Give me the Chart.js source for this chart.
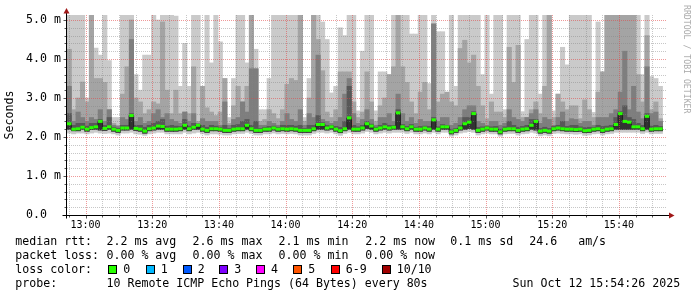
<!DOCTYPE html>
<html>
<head>
<meta charset="utf-8">
<title>smokeping</title>
<script src="https://cdn.jsdelivr.net/npm/chart.js@4/dist/chart.umd.min.js"></script>
<style>
  html, body { margin: 0; padding: 0; background: #fff; }
  #wrap { position: relative; width: 697px; height: 297px; overflow: hidden;
          font-family: "DejaVu Sans Mono", monospace; font-size: 11.6px; color: #000; }
  #chart { position: absolute; left: 0; top: 0; }
  .t { position: absolute; white-space: pre; line-height: 14px; }
  .box { position: absolute; width: 7px; height: 7px; border: 1px solid #000; }
  #credit { position: absolute; left: 692px; top: 5px; font-size: 8.2px; line-height: 10px;
            color: #aaa; white-space: pre; transform-origin: 0 0; transform: rotate(90deg); }
</style>
</head>
<body>
<div id="wrap">
  <canvas id="chart" width="697" height="297"></canvas>
  <div id="credit">RRDTOOL / TOBI OETIKER</div>
</div>
<script>
// ---------- time window (seconds of day) ----------
const start = 46466;   // 12:54:26
const end = 57266;     // 15:54:26
const step = 80;       // one probe round every 80s

// ---------- median rtt per round (ms) ----------
const median = [
  2.34,2.2,2.21,2.25,2.2,2.24,2.26,2.40,2.22,2.26,
  2.2,2.17,2.23,2.23,2.55,2.22,2.2,2.15,2.21,2.23,
  2.28,2.27,2.2,2.2,2.2,2.21,2.3,2.21,2.25,2.3,
  2.2,2.17,2.21,2.21,2.2,2.17,2.17,2.2,2.21,2.21,
  2.3,2.21,2.17,2.17,2.2,2.2,2.23,2.2,2.21,2.2,
  2.21,2.2,2.17,2.17,2.17,2.21,2.32,2.32,2.23,2.26,
  2.2,2.16,2.21,2.49,2.2,2.2,2.23,2.34,2.28,2.2,
  2.23,2.26,2.23,2.25,2.62,2.26,2.21,2.26,2.2,2.2,
  2.23,2.2,2.44,2.2,2.26,2.26,2.13,2.17,2.23,2.34,
  2.38,2.6,2.17,2.2,2.23,2.2,2.2,2.13,2.2,2.21,
  2.21,2.17,2.2,2.21,2.3,2.40,2.15,2.17,2.15,2.21,
  2.23,2.21,2.2,2.2,2.19,2.2,2.16,2.17,2.2,2.21,
  2.17,2.2,2.21,2.32,2.6,2.4,2.38,2.26,2.26,2.21,
  2.53,2.2,2.21,2.21
];

// ---------- smoke: sorted ping values (ms) ----------
const p1 = [
  2.1,2.08,2.1,2.1,2.08,2.1,2.12,2.1,2.09,2.1,
  2.08,2.05,2.1,2.1,2.12,2.08,2.07,2.04,2.08,2.1,
  2.12,2.12,2.08,2.08,2.08,2.08,2.12,2.08,2.1,2.12,
  2.08,2.05,2.08,2.08,2.07,2.05,2.05,2.08,2.09,2.09,
  2.12,2.09,2.05,2.05,2.08,2.08,2.1,2.08,2.09,2.08,
  2.09,2.08,2.05,2.05,2.05,2.09,2.12,2.12,2.1,2.12,
  2.08,2.04,2.09,2.12,2.08,2.08,2.1,2.14,2.12,2.08,
  2.1,2.12,2.1,2.12,2.12,2.12,2.09,2.12,2.08,2.08,
  2.1,2.08,2.12,2.08,2.12,2.12,2.02,2.05,2.1,2.12,
  2.14,2.12,2.05,2.08,2.1,2.08,2.08,2.02,2.08,2.09,
  2.09,2.05,2.08,2.09,2.12,2.1,2.03,2.05,2.03,2.09,
  2.1,2.09,2.08,2.08,2.07,2.08,2.04,2.05,2.08,2.09,
  2.05,2.08,2.09,2.12,2.12,2.12,2.12,2.12,2.12,2.09,
  2.12,2.08,2.09,2.09
];
const p5 = [
  2.2,2.16,2.16,2.2,2.15,2.19,2.2,2.18,2.17,2.2,
  2.15,2.12,2.18,2.18,2.2,2.17,2.15,2.1,2.16,2.18,
  2.2,2.2,2.15,2.15,2.15,2.16,2.2,2.16,2.2,2.2,
  2.15,2.12,2.16,2.16,2.15,2.12,2.12,2.15,2.16,2.16,
  2.2,2.16,2.12,2.12,2.15,2.15,2.18,2.15,2.16,2.15,
  2.16,2.15,2.12,2.12,2.12,2.16,2.2,2.2,2.18,2.2,
  2.15,2.11,2.16,2.2,2.15,2.15,2.18,2.22,2.2,2.15,
  2.18,2.2,2.18,2.2,2.2,2.2,2.16,2.2,2.15,2.15,
  2.18,2.15,2.2,2.15,2.2,2.2,2.08,2.12,2.18,2.2,
  2.22,2.2,2.12,2.15,2.18,2.15,2.15,2.08,2.15,2.16,
  2.16,2.12,2.15,2.16,2.2,2.18,2.1,2.12,2.1,2.16,
  2.18,2.16,2.15,2.15,2.14,2.15,2.11,2.12,2.15,2.16,
  2.12,2.15,2.16,2.2,2.2,2.2,2.2,2.2,2.2,2.16,
  2.2,2.15,2.16,2.16
];
const p7 = [
  2.6,2.3,2.35,2.35,2.28,2.35,2.35,2.45,2.3,2.5,
  2.25,2.22,2.3,2.3,2.6,2.3,2.3,2.25,2.3,2.35,
  2.4,2.45,2.28,2.3,2.28,2.27,2.45,2.28,2.35,2.32,
  2.3,2.25,2.3,2.28,2.25,2.3,2.22,2.3,2.32,2.4,
  2.45,2.3,2.4,2.22,2.25,2.27,2.28,2.25,2.3,2.3,
  2.3,2.28,2.3,2.22,2.3,2.3,2.55,2.37,2.3,2.3,
  2.27,2.25,2.4,3.3,2.3,2.26,2.3,2.4,2.33,2.25,
  2.3,2.35,2.3,2.3,2.7,2.32,2.27,2.32,2.25,2.27,
  2.28,2.27,2.5,2.26,2.32,2.3,2.2,2.22,2.3,2.5,
  2.5,2.65,2.25,2.26,2.27,2.26,2.27,2.2,2.26,2.4,
  2.3,2.25,2.27,2.3,2.45,2.45,2.22,2.25,2.22,2.27,
  2.3,2.4,2.27,2.3,2.3,2.26,2.24,2.25,2.25,2.3,
  2.27,2.28,2.3,2.5,2.65,2.8,2.5,2.45,2.35,2.3,
  2.6,2.28,2.3,2.27
];
const p8 = [
  3.3,2.4,2.64,2.5,2.4,2.5,2.45,2.7,2.4,2.7,
  2.3,2.27,2.5,2.45,4.5,2.4,2.5,2.35,2.4,2.6,
  2.7,2.5,2.6,2.45,2.4,2.35,2.64,2.4,2.6,2.35,
  2.47,2.4,2.4,2.4,2.3,2.9,2.3,2.45,2.5,2.9,
  2.64,3.75,3.75,2.3,2.3,2.4,2.35,2.3,2.4,2.6,
  2.45,2.4,2.7,2.3,2.6,2.5,4.1,2.45,2.4,2.35,
  2.4,2.5,3.1,3.5,2.6,2.35,2.45,2.7,2.45,2.3,
  2.5,2.5,2.6,2.4,3.1,2.6,2.4,2.5,2.35,2.45,
  2.4,2.4,4.9,2.4,2.5,2.5,2.3,2.35,2.5,2.7,
  2.8,2.8,2.4,2.35,2.3,2.4,2.4,2.3,2.35,2.7,
  2.5,2.45,2.4,2.5,2.6,2.7,2.35,2.5,2.45,2.3,
  2.5,2.64,2.4,2.47,2.45,2.35,2.4,2.4,2.3,2.5,
  2.5,2.5,2.6,2.7,3.15,4.2,2.7,3.3,2.64,2.47,
  3.8,2.6,2.64,2.4
];
const p9 = [
  4.25,2.7,3.0,3.41,2.9,5.2,3.5,3.5,3.4,2.7,
  2.35,2.3,3.1,3.8,5.0,3.0,2.9,2.6,2.7,2.9,
  2.85,4.95,3.2,2.6,3.2,2.6,2.64,2.6,3.8,2.4,
  3.3,2.75,2.64,2.55,2.64,3.5,2.35,2.8,3.3,2.9,
  3.3,5.2,3.75,2.4,2.45,2.7,2.6,2.47,2.7,3.35,
  3.5,3.45,5.2,2.4,3.0,5.2,4.5,3.7,2.64,2.5,
  2.7,3.67,3.67,3.67,2.9,2.5,2.64,3.67,2.9,2.4,
  2.8,3.0,3.6,3.8,5.2,3.8,3.4,2.9,2.6,3.15,
  3.4,2.7,4.9,2.9,3.1,3.15,2.9,2.8,4.27,4.48,
  3.9,4.1,3.3,2.8,2.47,2.9,2.64,2.64,2.5,4.3,
  3.4,4.35,2.5,2.5,2.7,2.9,2.6,3.3,5.2,2.5,
  3.1,2.9,2.7,2.8,2.8,2.47,2.95,2.7,2.5,3.15,
  3.67,5.2,5.2,5.2,5.2,5.2,5.2,5.2,3.6,2.9,
  4.6,2.7,2.9,2.47
];
const p10 = [
  5.2,5.2,5.2,5.2,3.0,5.2,4.28,4.1,5.2,3.96,
  2.5,2.5,5.2,5.2,5.2,3.6,3.2,4.1,4.1,5.2,
  5.0,5.2,5.2,5.2,5.1,3.3,4.4,3.3,5.2,5.2,
  3.3,5.2,3.9,5.2,4.44,3.5,2.5,3.5,5.2,5.2,
  3.9,5.2,4.25,2.7,2.7,3.5,5.2,5.2,5.2,5.2,
  5.2,5.2,5.2,2.5,3.5,5.2,5.2,4.95,4.5,3.13,
  3.3,4.8,4.6,5.2,5.2,2.67,4.2,5.2,5.2,2.67,
  3.67,3.67,3.6,5.2,5.2,5.2,5.2,4.64,4.64,5.2,
  5.2,3.37,5.2,4.7,4.7,3.15,5.2,3.3,5.2,5.2,
  5.2,5.2,5.2,3.6,5.2,3.1,5.2,5.2,2.7,5.2,
  5.2,5.2,2.65,4.5,5.2,5.2,3.1,5.2,5.2,2.67,
  3.1,4.3,3.85,5.2,5.2,5.2,5.2,5.2,2.63,4.95,
  3.67,5.2,5.2,5.2,5.2,5.2,5.2,5.2,5.2,3.6,
  5.2,3.55,3.5,3.3
];

// ---------- axes ----------
const yMax = 5.128;
const yTicks = [0, 1, 2, 3, 4, 5];
const yLabels = ['0.0  ', '1.0 m', '2.0 m', '3.0 m', '4.0 m', '5.0 m'];
const xTicks = [46800, 48000, 49200, 50400, 51600, 52800, 54000, 55200, 56400];

// ---------- legend ----------
const rttStats = ['2.2 ms avg', '2.6 ms max', '2.1 ms min', '2.2 ms now', '0.1 ms sd', '24.6   am/s'];
const lossStats = ['0.00 % avg', '0.00 % max', '0.00 % min', '0.00 % now'];
const lossLabels = ['0', '1', '2', '3', '4', '5', '6-9', '10/10'];
const lossColors = ['#26ff00', '#00b8ff', '#0059ff', '#7e00ff', '#ff00ff', '#ff5500', '#ff0000', '#a10000'];
const probeText = '10 Remote ICMP Echo Pings (64 Bytes) every 80s';
const stamp = 'Sun Oct 12 15:54:26 2025';

function hhmm(s) {
    const h = Math.floor(s / 3600), m = Math.floor((s % 3600) / 60);
    return String(h).padStart(2, '0') + ':' + String(m).padStart(2, '0');
}

const times = median.map((_, i) => start + step / 2 + i * step);
const pts = arr => arr.map((v, i) => ({x: times[i], y: v}));
const band = (lo, hi) => lo.map((v, i) => ({x: times[i], y: [v, hi[i]]}));

function smokeSet(lo, hi, color, order) {
    return {
        type: 'bar', data: band(lo, hi), backgroundColor: color, borderWidth: 0,
        barPercentage: 1, categoryPercentage: 1, grouped: false, clip: 0, order: order
    };
}

// ---------- grid and axes drawn like rrdtool ----------
function drawGrid(chart) {
    const {ctx, chartArea: a, scales: {x, y}} = chart;
    ctx.save();
    ctx.lineWidth = 1;
    ctx.setLineDash([1, 1]);
    for (let k = 1; k <= 25; k++) {
        const py = Math.round(y.getPixelForValue(k * 0.2)) + 0.5;
        ctx.strokeStyle = k % 5 === 0 ? 'rgba(225,70,70,0.55)' : 'rgba(130,130,130,0.45)';
        ctx.beginPath(); ctx.moveTo(a.left, py); ctx.lineTo(a.right, py); ctx.stroke();
    }
    for (let s = Math.ceil(start / 300) * 300; s < end; s += 300) {
        const px = Math.round(x.getPixelForValue(s)) + 0.5;
        ctx.strokeStyle = s % 1200 === 0 ? 'rgba(225,70,70,0.55)' : 'rgba(130,130,130,0.45)';
        ctx.beginPath(); ctx.moveTo(px, a.top); ctx.lineTo(px, a.bottom); ctx.stroke();
    }
    ctx.restore();
}

function drawAxes(chart) {
    const {ctx, chartArea: a, scales: {x, y}} = chart;
    const ax = a.left - 0.5, ay = a.bottom + 0.5;
    ctx.save();
    ctx.lineWidth = 1;
    ctx.strokeStyle = '#555';
    for (let k = 1; k <= 25; k++) {
        const py = Math.round(y.getPixelForValue(k * 0.2)) + 0.5;
        const len = k % 5 === 0 ? 3 : 2;
        ctx.beginPath(); ctx.moveTo(ax - len, py); ctx.lineTo(ax, py); ctx.stroke();
    }
    for (let s = Math.ceil(start / 300) * 300; s < end; s += 300) {
        const px = Math.round(x.getPixelForValue(s)) + 0.5;
        const len = s % 1200 === 0 ? 3 : 2;
        ctx.beginPath(); ctx.moveTo(px, ay); ctx.lineTo(px, ay + len); ctx.stroke();
    }
    ctx.strokeStyle = '#000';
    ctx.beginPath();
    ctx.moveTo(ax - 4, ay); ctx.lineTo(a.right + 2, ay);
    ctx.moveTo(ax, ay + 3); ctx.lineTo(ax, a.top - 2);
    ctx.stroke();
    ctx.fillStyle = '#a01818';
    ctx.beginPath();
    ctx.moveTo(ax, a.top - 7); ctx.lineTo(ax - 3, a.top - 1.5); ctx.lineTo(ax + 3, a.top - 1.5);
    ctx.closePath(); ctx.fill();
    ctx.beginPath();
    ctx.moveTo(a.right + 7.5, ay); ctx.lineTo(a.right + 2, ay - 3); ctx.lineTo(a.right + 2, ay + 3);
    ctx.closePath(); ctx.fill();
    ctx.restore();
}

const rrdFrame = {
    id: 'rrdFrame',
    beforeDatasetDraw(chart, args) {
        if (args.index === 1) drawGrid(chart);
    },
    afterDraw(chart) { drawAxes(chart); }
};

Chart.defaults.color = '#000';
Chart.defaults.font.family = '"DejaVu Sans Mono", monospace';

new Chart(document.getElementById('chart'), {
    type: 'bar',
    data: {
        datasets: [
            {
                type: 'line', data: pts(median), showLine: false,
                pointStyle: 'line', pointRadius: 2.25, pointBorderWidth: 3,
                pointBorderColor: '#26ff00', pointBackgroundColor: '#26ff00', order: 0
            },
            {
                type: 'line', data: pts(median), stepped: 'middle',
                borderColor: '#202020', borderWidth: 1, pointRadius: 0, fill: false, order: 1
            },
            smokeSet(p5, median, '#323232', 2),
            smokeSet(p5, p7, '#585858', 3),
            smokeSet(p5, p8, '#7e7e7e', 4),
            smokeSet(p5, p9, '#a4a4a4', 5),
            smokeSet(p1, p10, '#cacaca', 6)
        ]
    },
    options: {
        responsive: false,
        animation: false,
        devicePixelRatio: 1,
        events: [],
        layout: { padding: { left: 0, right: 30, top: 15, bottom: 62 } },
        plugins: { legend: { display: false }, tooltip: { enabled: false } },
        scales: {
            x: {
                type: 'linear', min: start, max: end, offset: false,
                grid: { display: false, drawTicks: false, offset: false },
                border: { display: false },
                afterBuildTicks: s => { s.ticks = xTicks.map(v => ({value: v})); },
                afterFit: s => { s.height = 20; },
                ticks: {
                    autoSkip: false, maxRotation: 0, padding: 4,
                    font: { size: 10 },
                    callback: v => hhmm(v)
                }
            },
            y: {
                type: 'linear', min: 0, max: yMax,
                grid: { display: false, drawTicks: false },
                border: { display: false },
                afterBuildTicks: s => { s.ticks = yTicks.map(v => ({value: v})); },
                afterFit: s => { s.width = 67; },
                ticks: {
                    padding: 6, font: { size: 11.6 },
                    callback: (v, i) => yLabels[i]
                },
                title: {
                    display: true, text: 'Seconds', color: '#000',
                    font: { size: 11.6 }, padding: { top: 3, bottom: 0 }
                }
            }
        }
    },
    plugins: [rrdFrame]
});

// ---------- legend below the plot ----------
const wrap = document.getElementById('wrap');
const rowTop = [234.3, 248.3, 262.3, 276.3];
const statX = [106.5, 192.6, 278.6, 365.3, 450.3, 529.3];
const boxX = [108.3, 145.7, 182.7, 219.3, 256, 293.3, 330.7, 381.7];

function text(str, x, top) {
    const d = document.createElement('div');
    d.className = 't';
    d.textContent = str;
    d.style.left = x + 'px';
    d.style.top = top + 'px';
    wrap.appendChild(d);
}

text('median rtt:', 15.3, rowTop[0]);
rttStats.forEach((s, i) => text(s, statX[i], rowTop[0]));
text('packet loss:', 15.3, rowTop[1]);
lossStats.forEach((s, i) => text(s, statX[i], rowTop[1]));
text('loss color:', 15.3, rowTop[2]);
lossLabels.forEach((s, i) => {
    const b = document.createElement('div');
    b.className = 'box';
    b.style.left = boxX[i] + 'px';
    b.style.top = (rowTop[2] + 2.7) + 'px';
    b.style.background = lossColors[i];
    wrap.appendChild(b);
    text(s, boxX[i] + 15, rowTop[2]);
});
text('probe:', 15.3, rowTop[3]);
text(probeText, 106.5, rowTop[3]);
text(stamp, 512.6, rowTop[3]);
</script>
</body>
</html>
